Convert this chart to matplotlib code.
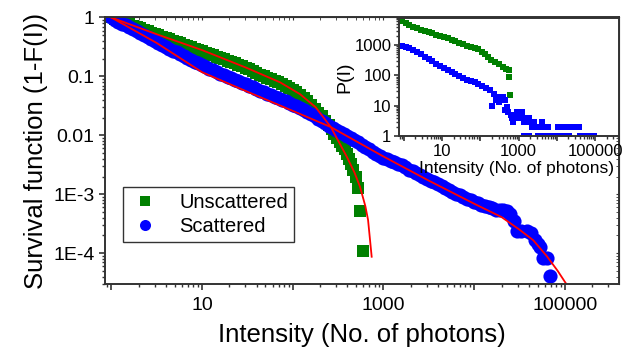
import numpy as np
import matplotlib
matplotlib.use('Agg')
import matplotlib.pyplot as plt
from matplotlib.ticker import LogLocator, FuncFormatter, NullFormatter

plt.rcParams['font.family'] = ['Liberation Sans', 'DejaVu Sans']

# Main panel: survival function, unscattered (green squares)
unsc_I = [1.00, 1.20, 1.45, 1.74, 2.09, 2.51, 3.02, 3.63, 4.37, 5.25, 6.31, 7.59, 9.12,
          11.0, 13.2, 15.8, 19.1, 22.9, 27.5, 33.1, 39.8, 47.9, 57.5, 69.2, 83.2, 100,
          120, 145, 174, 209, 251, 288, 331, 372, 417, 457, 501, 525, 550, 589]
unsc_S = [1.000, 0.899, 0.807, 0.724, 0.652, 0.586, 0.527, 0.475, 0.429, 0.385, 0.347,
          0.313, 0.282, 0.251, 0.229, 0.204, 0.184, 0.166, 0.148, 0.132, 0.115, 0.100,
          0.0891, 0.0794, 0.0692, 0.0589, 0.0490, 0.0389, 0.0282, 0.0209, 0.0148, 0.0107,
          0.00776, 0.00575, 0.00398, 0.00257, 0.00200, 0.00126, 0.000525, 0.000107]
# more points read along the same green band
unsc_I2 = [1.096, 1.318, 1.585, 1.905, 2.291, 2.754, 3.311, 3.981, 4.786, 5.754, 6.918,
           8.318, 10.0, 12.02, 14.45, 17.38, 20.89, 25.12, 30.2, 36.31, 43.65, 52.48,
           63.1, 75.86, 91.2, 109.6, 131.8, 158.5, 190.5, 229.1, 269, 309, 351, 394, 437]
unsc_S2 = [0.948, 0.852, 0.764, 0.687, 0.618, 0.556, 0.500, 0.451, 0.406, 0.366, 0.330,
           0.297, 0.266, 0.240, 0.216, 0.194, 0.175, 0.157, 0.140, 0.123, 0.107, 0.0944,
           0.0841, 0.0741, 0.0638, 0.0537, 0.0437, 0.0331, 0.0243, 0.0176, 0.0126,
           0.00911, 0.00668, 0.00478, 0.00320]

# scattered (blue circles)
scat_I = [1.00, 1.20, 1.45, 1.74, 2.09, 2.51, 3.02, 3.63, 4.37, 5.25, 6.31, 7.59, 9.12,
          11.0, 13.2, 15.8, 19.1, 22.9, 27.5, 33.1, 39.8, 47.9, 57.5, 69.2, 83.2, 100,
          120, 145, 174, 209, 251, 302, 363, 437, 525, 631, 759, 912, 1100, 1320, 1580,
          1910, 2290, 2750, 3310, 3980, 4790, 5750, 6920, 8320, 10000, 12000, 14500, 17400,
          20900, 22900, 25100, 27500, 29500, 33100, 38000, 42700, 46800, 50100, 53100,
          57500, 63100, 68400]
scat_S = [1.000, 0.851, 0.733, 0.631, 0.537, 0.462, 0.398, 0.347, 0.295, 0.257, 0.221,
          0.191, 0.166, 0.145, 0.126, 0.112, 0.0977, 0.0871, 0.0776, 0.0692, 0.0617,
          0.0537, 0.0479, 0.0427, 0.0380, 0.0331, 0.0288, 0.0245, 0.0209, 0.0174, 0.0145,
          0.0123, 0.0105, 0.00891, 0.00759, 0.00631, 0.00525, 0.00447, 0.00389, 0.00347,
          0.00309, 0.00263, 0.00229, 0.00200, 0.00170, 0.00148, 0.00126, 0.00110,
          0.000955, 0.000832, 0.000741, 0.000661, 0.000603, 0.000550,
          5.37e-4, 5.13e-4, 4.57e-4, 3.55e-4, 2.40e-4, 2.34e-4, 2.34e-4, 2.19e-4,
          1.70e-4, 1.41e-4, 1.29e-4, 8.3e-5, 8.3e-5, 4.1e-5]
# more points read along the same blue band
scat_I2 = [1.096, 1.318, 1.585, 1.905, 2.291, 2.754, 3.311, 3.981, 4.786, 5.754, 6.918,
           8.318, 10.0, 12.02, 14.45, 17.38, 20.89, 25.12, 30.2, 36.31, 43.65, 52.48,
           63.1, 75.86, 91.2, 109.6, 131.8, 158.5, 190.5, 229.1, 275, 331, 398, 479, 575,
           692, 832, 1000, 1202, 1445, 1738, 2089, 2512, 3020, 3631, 4365, 5248, 6310,
           7586, 9120, 10960, 13180, 15850, 19050]
scat_S2 = [0.922, 0.790, 0.680, 0.582, 0.498, 0.429, 0.372, 0.320, 0.275, 0.238, 0.205,
           0.178, 0.155, 0.135, 0.119, 0.105, 0.0922, 0.0822, 0.0733, 0.0653, 0.0576,
           0.0507, 0.0452, 0.0403, 0.0355, 0.0309, 0.0266, 0.0226, 0.0191, 0.0159,
           0.0134, 0.0114, 0.00967, 0.00822, 0.00692, 0.00576, 0.00484, 0.00417,
           0.00367, 0.00327, 0.00285, 0.00245, 0.00214, 0.00184, 0.00159, 0.00137,
           0.00118, 0.00102, 0.000891, 0.000785, 0.000700, 0.000631, 0.000576, 0.000543]

# fitted curves (red)
fit_unsc_I = [1.0, 3.16, 10.0, 31.6, 72.4, 120, 178, 263, 393, 479, 550, 631, 676, 741]
fit_unsc_S = [1.0, 0.52, 0.28, 0.138, 0.0794, 0.0501, 0.0302, 0.0138, 0.00437, 0.00234,
              0.00135, 0.00063, 0.000367, 8.7e-5]
fit_scat_I = [1.0, 3.16, 10.0, 31.6, 100, 263, 1000, 3160, 10000, 20000, 31600, 44700,
              63100, 83200, 105000]
fit_scat_S = [1.0, 0.37, 0.118, 0.055, 0.026, 0.0138, 0.00437, 0.0017, 0.00069,
              0.00041, 0.00025, 0.000166, 8.9e-5, 5.0e-5, 2.9e-5]

# Inset: histogram P(I)
hist_unsc_I = [0.891, 1.12, 1.41, 1.78, 2.24, 2.82, 3.55, 4.47, 5.62, 7.08, 8.91, 11.2,
               14.1, 17.8, 22.4, 28.2, 35.5, 44.7, 56.2, 70.8, 89.1, 112, 132, 158, 191,
               240, 302, 380, 479, 550, 562, 589]
hist_unsc_P = [6310, 5250, 4570, 3980, 3550, 3160, 2880, 2630, 2400, 2190, 2000, 1860,
               1660, 1480, 1320, 1170, 1050, 955, 871, 794, 724, 603, 501, 417, 331,
               275, 229, 191, 158, 145, 89, 22]
hist_scat_I = [0.891, 1.12, 1.41, 1.78, 2.24, 2.82, 3.55, 4.47, 5.62, 7.08, 8.91, 11.2,
               14.1, 17.8, 22.4, 28.2, 35.5, 44.7, 56.2, 70.8, 89.1, 112, 141, 178, 224,
               282, 355, 447,
               200, 251, 316, 398, 447, 501, 525, 631, 661, 724, 794, 891, 1000, 1120,
               1200, 1260, 1410, 1580, 1820, 2000, 2240, 2510, 3160, 3980, 4070, 5010,
               6030, 11000, 13500, 18600, 25100, 31600, 37200,
               1420, 1620, 1820, 3310, 3980, 5010, 6030, 7080, 8910, 11000, 15800, 20400,
               40700, 50100, 63100, 79400, 91200]
hist_scat_P = [955, 871, 776, 692, 603, 525, 417, 355, 295, 240, 200, 174, 148, 126, 107,
               93, 83, 72, 65, 59, 52, 45, 38, 32, 25, 20, 18, 16,
               10, 16, 13, 20, 7, 9, 6, 5, 4, 3, 4, 6, 5, 4, 6, 5, 3, 4, 4, 3, 2, 3, 2, 3,
               2, 2, 2, 2, 2, 2, 2, 2, 2,
               1, 1, 1, 1, 1, 1, 1, 1, 1, 1, 1, 1, 1, 1, 1, 1, 1]

main_xticks = {10: '10', 1000: '1000', 100000: '100000'}
main_yticks = {1: '1', 0.1: '0.1', 0.01: '0.01', 1e-3: '1E-3', 1e-4: '1E-4'}
inset_yticks = {1: '1', 10: '10', 100: '100', 1000: '1000'}

green = '#008000'
blue = '#0000ff'
red = '#ff0000'
spine_c = '#333333'

fig = plt.figure(figsize=(6.38, 3.47), dpi=100)
ax = fig.add_axes([0.1646, 0.1816, 0.8056, 0.768])

ax.plot(unsc_I, unsc_S, 's', color=green, ms=8.6, mew=0, label='Unscattered')
ax.plot(unsc_I2, unsc_S2, 's', color=green, ms=8.6, mew=0)
ax.plot(scat_I, scat_S, 'o', color=blue, ms=10.2, mew=0, label='Scattered')
ax.plot(scat_I2, scat_S2, 'o', color=blue, ms=10.2, mew=0)
ax.plot(fit_unsc_I, fit_unsc_S, '-', color=red, lw=1.3)
ax.plot(fit_scat_I, fit_scat_S, '-', color=red, lw=1.3)

ax.set_xscale('log')
ax.set_yscale('log')
ax.set_xlim(0.853, 3.94e5)
ax.set_ylim(3.0e-5, 1.0)


def style_axes(a, xt, yt, size, major_len, minor_len, pad):
    a.xaxis.set_major_locator(LogLocator(base=10, numticks=20))
    a.xaxis.set_minor_locator(LogLocator(base=10, subs=np.arange(2, 10), numticks=20))
    a.yaxis.set_major_locator(LogLocator(base=10, numticks=20))
    a.yaxis.set_minor_locator(LogLocator(base=10, subs=np.arange(2, 10), numticks=20))
    a.xaxis.set_major_formatter(FuncFormatter(lambda v, p: next((s for k, s in xt.items() if np.isclose(v, k)), '')))
    a.yaxis.set_major_formatter(FuncFormatter(lambda v, p: next((s for k, s in yt.items() if np.isclose(v, k)), '')))
    a.xaxis.set_minor_formatter(NullFormatter())
    a.yaxis.set_minor_formatter(NullFormatter())
    a.tick_params(which='major', direction='out', length=major_len, width=1.2, color=spine_c,
                  labelsize=size, pad=pad)
    a.tick_params(which='minor', direction='out', length=minor_len, width=1.0, color=spine_c)
    for s in a.spines.values():
        s.set_color(spine_c)
        s.set_linewidth(1.4)


style_axes(ax, main_xticks, main_yticks, 14, 4.5, 2.5, 3)
ax.tick_params(axis='x', which='major', pad=5)
sec_t = ax.secondary_xaxis('top')
sec_t.tick_params(which='both', direction='in', length=2, labeltop=False, color=spine_c)
sec_t.xaxis.set_major_formatter(NullFormatter())
sec_t.xaxis.set_minor_formatter(NullFormatter())
sec_r = ax.secondary_yaxis('right')
sec_r.tick_params(which='both', direction='in', length=2, labelright=False, color=spine_c)
sec_r.yaxis.set_major_formatter(NullFormatter())
sec_r.yaxis.set_minor_formatter(NullFormatter())

ax.set_xlabel('Intensity (No. of photons)', fontsize=18.5, labelpad=6)
ax.set_ylabel('Survival function (1-F(I))', fontsize=18.5, labelpad=4)

leg = ax.legend(loc='lower left', bbox_to_anchor=(0.035, 0.158), borderaxespad=0,
                fontsize=14.5, frameon=True, fancybox=False, edgecolor='black',
                markerscale=0.78, handletextpad=0.9, borderpad=0.3, labelspacing=0.25,
                handlelength=1.6)
leg.get_frame().set_linewidth(1.0)

# inset
axi = fig.add_axes([0.6254, 0.608, 0.3448, 0.3415])
axi.plot(hist_unsc_I, hist_unsc_P, 's', color=green, ms=4.2, mew=0)
axi.plot(hist_scat_I, hist_scat_P, 's', color=blue, ms=4.2, mew=0)
axi.set_xscale('log')
axi.set_yscale('log')
axi.set_xlim(0.75, 4.2e5)
axi.set_ylim(1.0, 8070)
style_axes(axi, main_xticks, inset_yticks, 12, 3.5, 2, 2)
axi.tick_params(axis='x', which='major', pad=2.5)
axi.set_xlabel('Intensity (No. of photons)', fontsize=12.5)
axi.xaxis.set_label_coords(0.536, -0.21)
axi.set_ylabel('P(I)', fontsize=14, labelpad=1)

fig.savefig('out.png', dpi=100)
